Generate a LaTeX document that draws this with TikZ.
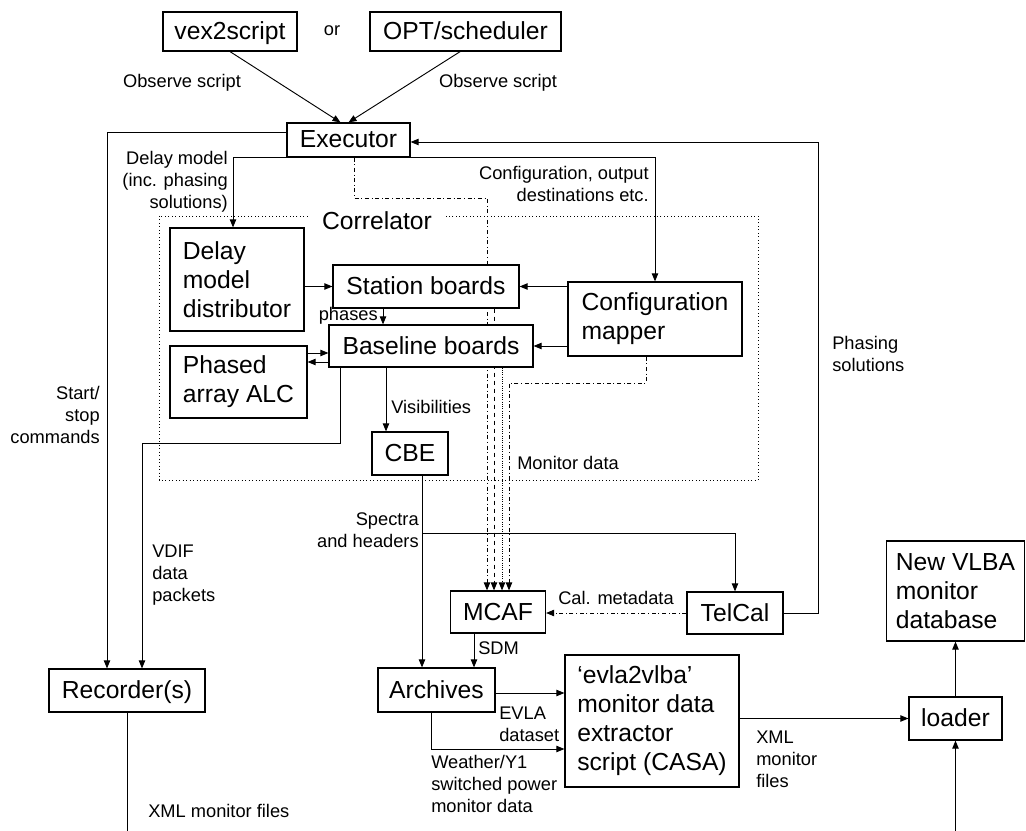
\documentclass[tikz,border=0pt]{standalone}
\usepackage{fontspec}
\setmainfont{Liberation Sans}
\usetikzlibrary{arrows.meta,backgrounds}

\tikzset{
  boxbase/.style={draw, fill=white, line width=0.9pt, inner sep=0pt,
    font=\fontsize{18.5}{21.75}\selectfont},
  box/.style={boxbase, text height=16pt, text depth=4pt},
  lbox/.style={boxbase, align=left},
  lbl/.style={inner sep=0.75pt, font=\fontsize{13.7}{16.5}\selectfont},
  wire/.style={line width=0.7pt, -{Triangle[length=6pt,width=4.8pt]}},
  line/.style={line width=0.7pt},
}

\begin{document}
\begin{tikzpicture}[x=0.75pt,y=0.75pt,yscale=-1,xscale=1]
    \useasboundingbox (0,0) rectangle (1026,831);

    %Shape: Boxes
    \node [box, minimum width=100.5pt, minimum height=29.25pt] (vex) at (230,31.5) {vex2script};
    \node [box, minimum width=143.25pt, minimum height=29.25pt] (opt) at (465.5,31.5) {OPT/scheduler};
    \node [box, minimum width=92.25pt, minimum height=25.5pt] (exec) at (348.5,140) {Executor};
    \node [lbox, minimum width=100.5pt, minimum height=77.25pt] (delay) at (237,279.5) {Delay\\model\\distributor};
    \node [box, minimum width=139.5pt, minimum height=32.25pt] (station) at (426,286.5) {Station boards};
    \node [box, minimum width=153pt, minimum height=31.5pt] (baseline) at (431,346) {Baseline boards};
    \node [lbox, minimum width=102.75pt, minimum height=54pt] (alc) at (238.5,382) {Phased\\array ALC};
    \node [lbox, minimum width=130.5pt, minimum height=55.5pt] (config) at (655,319) {Configuration\\mapper};
    \node [box, minimum width=57pt, minimum height=32.25pt] (cbe) at (410,453.5) {CBE};
    \node [box, minimum width=117pt, minimum height=32.25pt] (rec) at (127,690.5) {Recorder(s)};
    \node [box, minimum width=71.25pt, minimum height=31.5pt] (mcaf) at (498,612) {MCAF};
    \node [box, minimum width=72pt, minimum height=31.5pt] (telcal) at (735,613) {TelCal};
    \node [box, minimum width=87.75pt, minimum height=33pt] (arch) at (436.5,690) {Archives};
    \node [lbox, minimum width=130.5pt, minimum height=99pt] (evla) at (652,721) {‘evla2vlba’\\monitor data\\extractor\\script (CASA)};
    \node [box, minimum width=69.75pt, minimum height=32.25pt] (loader) at (955.5,718.5) {loader};
    \node [lbox, minimum width=104pt, minimum height=75pt] (nv) at (955.5,591) {New VLBA\\monitor\\database};

    % Text Node
    \node [lbl] (orlbl) at (332,31) {or};
    \node [lbl] (obsl) at (182,83) {Observe script};
    \node [lbl] (obsr) at (498,83) {Observe script};
    \node [lbl, anchor=east, align=right] (dmlbl) at (229,182) {Delay model\\(inc. phasing\\solutions)};
    \node [lbl, anchor=east, align=right] (cfglbl) at (650,184) {Configuration, output\\destinations etc.};
    \node [lbl, anchor=east] (phlbl) at (379,316) {phases};
    \node [lbl, anchor=west] (vislbl) at (390,407) {Visibilities};
    \node [lbl, anchor=east, align=right] (sslbl) at (101,415) {Start/\\stop\\commands};
    \node [lbl, anchor=west, align=left] (vdlbl) at (151,575) {VDIF\\data\\packets};
    \node [lbl, anchor=west] (monlbl) at (516,463) {Monitor data};
    \node [lbl, anchor=west, align=left] (phslbl) at (831,354) {Phasing\\solutions};
    \node [lbl, anchor=east, align=right] (splbl) at (420,530) {Spectra\\and headers};
    \node [lbl] (callbl) at (616,598) {Cal. metadata};
    \node [lbl, anchor=west] (sdmlbl) at (477,648) {SDM};
    \node [lbl, anchor=west, align=left] (evlbl) at (498,724) {EVLA\\dataset};
    \node [lbl, anchor=west, align=left] (wxlbl) at (430,784) {Weather/Y1\\switched power\\monitor data};
    \node [lbl, anchor=west, align=left] (xmllbl) at (755,759) {XML\\monitor\\files};
    \node [lbl, anchor=west] (xmlrec) at (147,811) {XML monitor files};

    % bend points
    \coordinate (ss) at (107,132);
    \coordinate (dm) at (233,0);
    \coordinate (ph) at (818,142);
    \coordinate (phx) at (383,0);
    \coordinate (ab1) at (0,353);
    \coordinate (ab2) at (0,362);
    \coordinate (vx) at (386,0);
    \coordinate (vd) at (340,443);
    \coordinate (vd2) at (142,443);
    \coordinate (sp) at (422,533);
    \coordinate (sd) at (474,0);
    \coordinate (ev) at (0,693);
    \coordinate (wx) at (431,749);
    \coordinate (bot) at (0,831);
    \coordinate (m0) at (354,198);
    \coordinate (m1) at (487,198);
    \coordinate (m2) at (494,0);
    \coordinate (m3) at (502,0);
    \coordinate (m4) at (646,383);
    \coordinate (m5) at (509,383);

    %Shape: Correlator frame and monitor data lines
    \begin{pgfonlayer}{background}
    \draw [dotted, line width=0.6pt] (159,216) rectangle (758,480);
    \draw [wire, dash dot] (exec.south -| m0) -- (m0) -- (m1) -- (m1 |- mcaf.north);
    \draw [wire, dashed] (station.south -| m2) -- (m2 |- mcaf.north);
    \draw [wire, densely dotted] (baseline.south -| m3) -- (m3 |- mcaf.north);
    \draw [wire, dash dot] (config.south -| m4) -- (m4) -- (m5) -- (m5 |- mcaf.north);
    \end{pgfonlayer}
    \node [fill=white, inner xsep=9pt, inner ysep=2pt, font=\fontsize{18.5}{21.75}\selectfont] (corrlbl) at (377,221) {Correlator};

    %Straight Lines
    \draw [wire] (vex.south) -- ([xshift=-6pt]exec.north);
    \draw [wire] ([xshift=-4pt]opt.south) -- (exec.north);
    \draw [wire] (exec.west |- ss) -- (ss) -- (ss |- rec.north);
    \draw [wire] (exec.south west) -| (delay.north -| dm);
    \draw [wire] (telcal.east) -| (ph) -- (exec.east |- ph);
    \draw [wire] (exec.south east) -| (config.north);
    \draw [wire] (delay.east |- station.west) -- (station.west);
    \draw [wire] (station.south -| phx) -- (baseline.north -| phx);
    \draw [wire] (alc.east |- ab1) -- (baseline.west |- ab1);
    \draw [wire] (baseline.west |- ab2) -- (alc.east |- ab2);
    \draw [wire] (config.west |- station.east) -- (station.east);
    \draw [wire] (config.west |- baseline.east) -- (baseline.east);
    \draw [wire] (baseline.south -| vx) -- (cbe.north -| vx);
    \draw [wire] (baseline.south -| vd) -- (vd) -- (vd2) -- (vd2 |- rec.north);
    \draw [wire] (cbe.south -| sp) -- (sp |- arch.north);
    \draw [wire] (sp) -| (telcal.north);
    \draw [wire, dash dot] (telcal.west) -- (mcaf.east |- telcal.west);
    \draw [wire] (mcaf.south -| sd) -- (arch.north -| sd);
    \draw [wire] (arch.east |- ev) -- (evla.west |- ev);
    \draw [wire] (arch.south -| wx) -- (wx) -- (wx -| evla.west);
    \draw [wire] (evla.east |- loader.west) -- (loader.west);
    \draw [wire] (loader.north) -- (nv.south);
    \draw [wire] (loader.south |- bot) -- (loader.south);
    \draw [line] (rec.south) -- (rec.south |- bot);

\end{tikzpicture}
\end{document}
